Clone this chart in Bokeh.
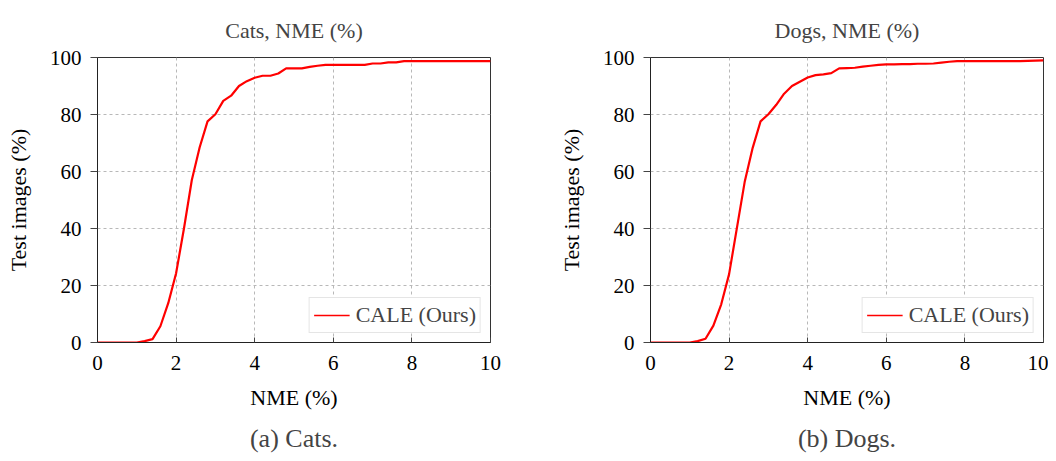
from bokeh.plotting import figure
from bokeh.layouts import row
from bokeh.models import Title, Legend, LegendItem, FixedTicker
from bokeh.embed import file_html
from bokeh.resources import INLINE

nme = [round(i * 0.2, 1) for i in range(51)]

cats = [0, 0, 0, 0, 0, 0, 0.5, 1.2, 5.7, 13.8, 24.3, 40, 57, 68.5, 77.6, 80.1,
        84.8, 86.6, 90, 91.7, 92.9, 93.6, 93.6, 94.4, 96.2, 96.2, 96.2, 96.7,
        97.1, 97.4, 97.4, 97.4, 97.4, 97.4, 97.4, 97.9, 97.9, 98.3, 98.3, 98.7,
        98.7, 98.7, 98.7, 98.7, 98.7, 98.7, 98.7, 98.7, 98.7, 98.7, 98.7]

dogs = [0, 0, 0, 0, 0, 0, 0.5, 1.3, 5.9, 13.4, 24, 40.3, 56.6, 68.3, 77.6, 80.1,
        83.4, 87.3, 90, 91.5, 93, 93.8, 94.1, 94.5, 96.2, 96.3, 96.4, 96.8,
        97.1, 97.4, 97.6, 97.6, 97.7, 97.7, 97.8, 97.8, 97.9, 98.2, 98.5, 98.7,
        98.7, 98.7, 98.7, 98.7, 98.7, 98.7, 98.7, 98.7, 98.8, 98.9, 99]

x_ticks = [0, 2, 4, 6, 8, 10]
y_ticks = [0, 20, 40, 60, 80, 100]
series_name = "CALE (Ours)"
FONT = "Liberation Serif"


def make(title, caption, ys, width, bl, br):
    p = figure(width=width, height=461, x_range=(0, 10), y_range=(0, 100),
               output_backend="svg", toolbar_location=None,
               min_border_left=bl, min_border_right=br,
               min_border_top=57, min_border_bottom=119)
    p.title.text = title
    p.title.align = "center"
    p.title.text_font = FONT
    p.title.text_font_size = "22px"
    p.title.text_font_style = "normal"
    p.title.standoff = 30
    cap = Title(text=caption, align="center", text_font=FONT,
                text_font_size="26px", text_font_style="normal",
                text_line_height=1.0, standoff=18)
    p.add_layout(cap, "below")
    p.outline_line_color = "#333333"
    p.outline_line_width = 1
    for ax in (p.xaxis[0], p.yaxis[0]):
        ax.major_label_text_font = FONT
        ax.major_label_text_font_size = "21px"
        ax.axis_label_text_font = FONT
        ax.axis_label_text_font_size = "22px"
        ax.axis_label_text_font_style = "normal"
        ax.axis_label_text_color = "black"
        ax.axis_line_color = "#222222"
        ax.major_tick_line_color = "#444444"
        ax.minor_tick_line_color = None
        ax.major_label_text_color = "black"
    p.xaxis.major_tick_in = 5
    p.xaxis.major_tick_out = 0
    p.yaxis.major_tick_in = 0
    p.yaxis.major_tick_out = 7
    p.xaxis.ticker = FixedTicker(ticks=x_ticks)
    p.yaxis.ticker = FixedTicker(ticks=y_ticks)
    p.xaxis.axis_label = "NME (%)"
    p.yaxis.axis_label = "Test images (%)"
    p.xaxis.major_label_standoff = 13
    p.yaxis.major_label_standoff = 9
    p.xaxis.axis_label_standoff = 12
    p.yaxis.axis_label_standoff = 16
    p.grid.grid_line_color = "#b8b8b8"
    p.grid.grid_line_dash = "3 3"
    p.grid.grid_line_width = 1
    p.line(nme, ys, line_color="#ff0000", line_width=2.2)
    dummy = p.multi_line(xs=[[0, 0]], ys=[[0, 0]], line_color="#ff0000",
                         line_width=1.3)
    leg = Legend(items=[LegendItem(label=series_name, renderers=[dummy])],
                 location="bottom_right", label_text_font=FONT,
                 label_text_font_size="22px", border_line_color="#cccccc",
                 margin=9, padding=4, spacing=0, glyph_width=36,
                 label_standoff=6, background_fill_alpha=1)
    p.add_layout(leg)
    return p


p1 = make("Cats, NME (%)", "(a) Cats.", cats, 555, 97, 65)
p2 = make("Dogs, NME (%)", "(b) Dogs.", dogs, 493, 95, 5)
lay = row(p1, p2, spacing=0)

open("out.html", "w").write(file_html(lay, INLINE))
